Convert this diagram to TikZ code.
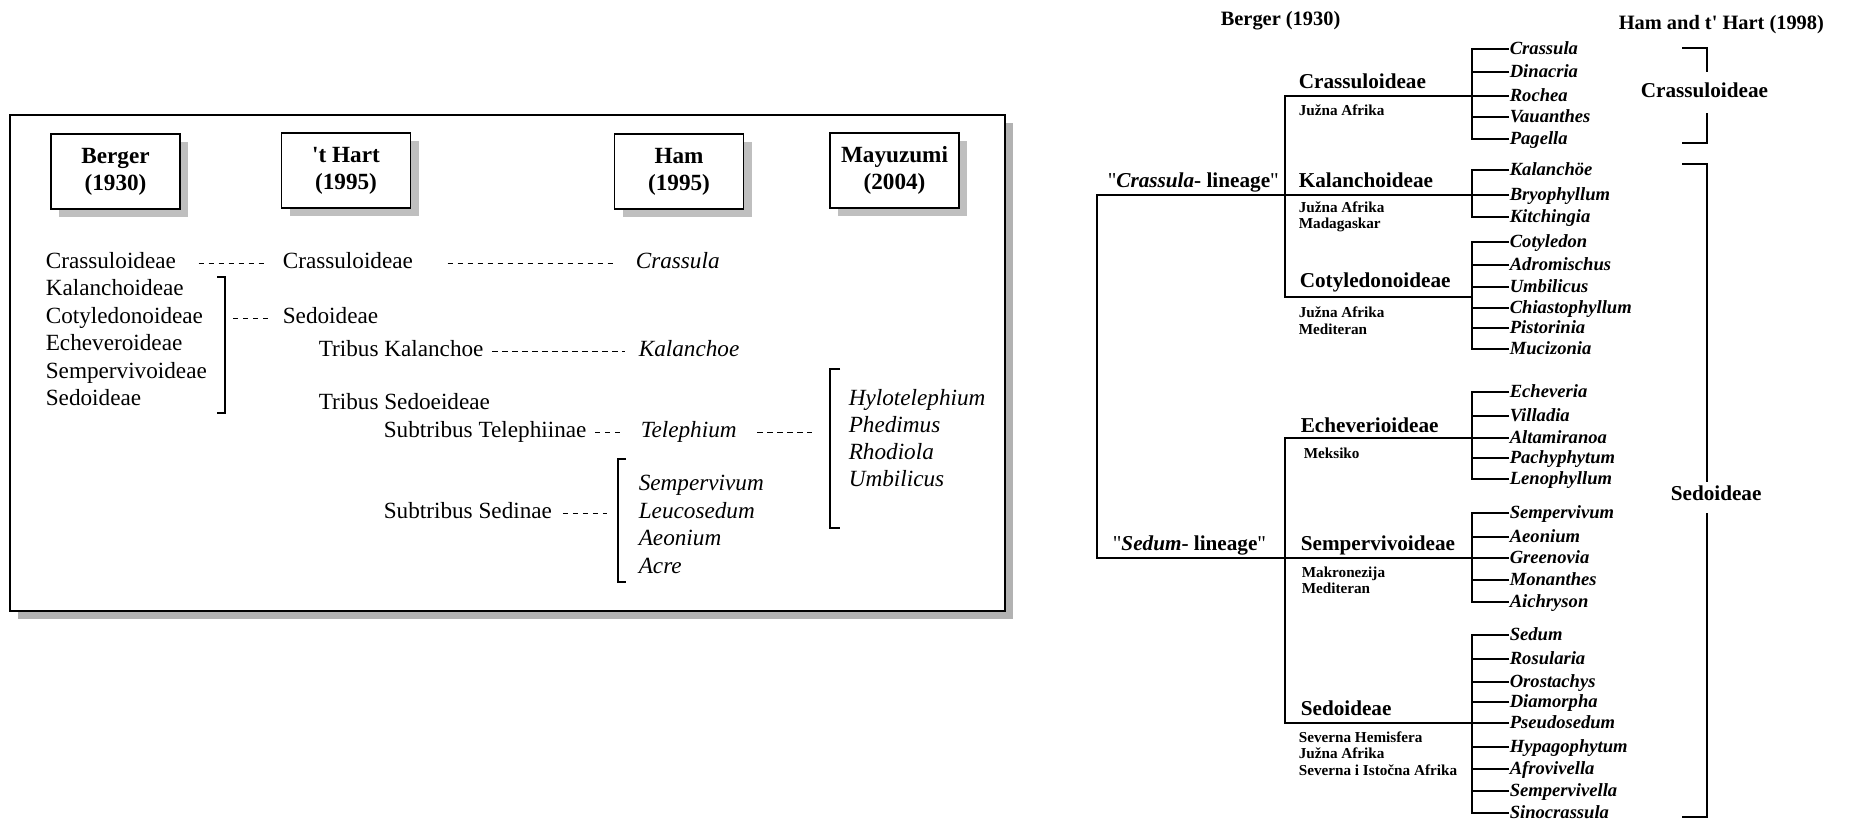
\documentclass[tikz,border=0pt]{standalone}
\usepackage{fontspec}
\setmainfont{Liberation Serif}[Ligatures=TeXOff]
\usetikzlibrary{shadows}

\begin{document}
\begin{tikzpicture}[x=0.5pt, y=-0.5pt, line width=0.8pt,
  main/.style = {inner sep=0pt, anchor=base west, text height=4.5pt, text depth=0pt, font=\fontsize{11.6}{13.9}\selectfont},
  ital/.style = {main, font=\fontsize{11.6}{13.9}\selectfont\itshape},
  head/.style = {draw, fill=white, minimum width=64.5pt, minimum height=37.5pt, align=center, inner sep=0pt, font=\fontsize{11.6}{13.5}\selectfont\bfseries, drop shadow={shadow xshift=4pt, shadow yshift=-4pt, fill=black!25, opacity=1}},
  fam/.style = {inner sep=0pt, anchor=base west, font=\fontsize{10.6}{12}\selectfont\bfseries},
  reg/.style = {inner sep=0pt, anchor=base west, font=\fontsize{7.6}{9}\selectfont\bfseries},
  gen/.style = {inner sep=0pt, anchor=west, text height=5.5pt, text depth=0pt, font=\fontsize{9.3}{11}\selectfont\bfseries\itshape},
  link/.style = {line width=0.5pt, dash pattern=on 2.6pt off 2.4pt},
  brk/.style = {line width=0.8pt}]
  \useasboundingbox (0,0) rectangle (1854,820);
  \draw[line width=1pt, fill=white, drop shadow={shadow xshift=4pt, shadow yshift=-4pt, fill=black!30, opacity=1}] (10,115) rectangle (1005,611);
  \node[head] (1) at (115.5,171.5) {Berger\\(1930)};
  \node[head] (2) at (346,170.5) {'t Hart\\(1995)};
  \node[head] (3) at (679,171.5) {Ham\\(1995)};
  \node[head] (4) at (894.5,170.5) {Mayuzumi\\(2004)};
  \node[main] (5) at (45,268) {Crassuloideae};
  \node[main] (6) at (45,295) {Kalanchoideae};
  \node[main] (7) at (45,323) {Cotyledonoideae};
  \node[main] (8) at (45,350) {Echeveroideae};
  \node[main] (9) at (45,378) {Sempervivoideae};
  \node[main] (10) at (45,405) {Sedoideae};
  \node[main] (11) at (282,268) {Crassuloideae};
  \node[main] (12) at (282,323) {Sedoideae};
  \node[main] (13) at (318,356) {Tribus Kalanchoe};
  \node[main] (14) at (318,409) {Tribus Sedoeideae};
  \node[main] (15) at (383,437) {Subtribus Telephiinae};
  \node[main] (16) at (383,518) {Subtribus Sedinae};
  \node[ital] (17) at (635,268) {Crassula};
  \node[ital] (18) at (638,356) {Kalanchoe};
  \node[ital] (19) at (640,437) {Telephium};
  \node[ital] (20) at (638,490) {Sempervivum};
  \node[ital] (21) at (638,518) {Leucosedum};
  \node[ital] (22) at (638,545) {Aeonium};
  \node[ital] (23) at (638,573) {Acre};
  \node[ital] (24) at (848,405) {Hylotelephium};
  \node[ital] (25) at (848,432) {Phedimus};
  \node[ital] (26) at (848,459) {Rhodiola};
  \node[ital] (27) at (848,486) {Umbilicus};
  \draw[brk] (217,277) -- (225,277) -- (225,413) -- (217,413);
  \draw[brk] (626,459) -- (618,459) -- (618,582) -- (626,582);
  \draw[brk] (840,369) -- (830,369) -- (830,528) -- (840,528);
  \coordinate (a) at (225,318.5);
  \coordinate (b) at (618,513.5);
  \coordinate (c) at (830,432.5);
  \draw[link, shorten <=11pt, shorten >=8.5pt] (5) to (11);
  \draw[link, shorten <=17pt, shorten >=9pt] (11) to (17);
  \draw[link, shorten <=4pt, shorten >=6.5pt] (a) to (12);
  \draw[link, shorten <=4pt, shorten >=6.5pt] (13) to (18);
  \draw[link, shorten <=4pt, shorten >=7.5pt] (15) to (19);
  \draw[link, shorten <=10pt, shorten >=9pt] (19) to (c);
  \draw[link, shorten <=5pt, shorten >=5.5pt] (16) to (b);
  \node[fam, font=\fontsize{10.2}{12}\selectfont\bfseries] (40) at (1220,25) {Berger (1930)};
  \node[fam, font=\fontsize{10.2}{12}\selectfont\bfseries] (41) at (1618,29) {Ham and t' Hart (1998)};
  \node[fam] (42) at (1107,187) {\textmd{"}\textit{Crassula}- lineage\textmd{"}};
  \node[fam] (43) at (1112,550) {\textmd{"}\textit{Sedum}- lineage\textmd{"}};
  \node[fam] (44) at (1298,88) {Crassuloideae};
  \node[reg] (45) at (1298,115) {Južna Afrika};
  \node[fam] (46) at (1298,187) {Kalanchoideae};
  \node[reg] (47) at (1298,212) {Južna Afrika};
  \node[reg] (48) at (1298,228) {Madagaskar};
  \node[fam] (49) at (1299,287) {Cotyledonoideae};
  \node[reg] (50) at (1298,317) {Južna Afrika};
  \node[reg] (51) at (1298,334) {Mediteran};
  \node[fam] (52) at (1300,432) {Echeverioideae};
  \node[reg] (53) at (1303,458) {Meksiko};
  \node[fam] (54) at (1300,550) {Sempervivoideae};
  \node[reg] (55) at (1301,577) {Makronezija};
  \node[reg] (56) at (1301,593) {Mediteran};
  \node[fam] (57) at (1300,715) {Sedoideae};
  \node[reg] (58) at (1298,742) {Severna Hemisfera};
  \node[reg] (59) at (1298,758) {Južna Afrika};
  \node[reg] (60) at (1298,775) {Severna i Istočna Afrika};
  \node[gen] (61) at (1509,49) {Crassula};
  \node[gen] (62) at (1509,72) {Dinacria};
  \node[gen] (63) at (1509,96) {Rochea};
  \node[gen] (64) at (1509,117) {Vauanthes};
  \node[gen] (65) at (1509,139) {Pagella};
  \node[gen] (66) at (1509,170) {Kalanchöe};
  \node[gen] (67) at (1509,195) {Bryophyllum};
  \node[gen] (68) at (1509,217) {Kitchingia};
  \node[gen] (69) at (1509,242) {Cotyledon};
  \node[gen] (70) at (1509,265) {Adromischus};
  \node[gen] (71) at (1509,287) {Umbilicus};
  \node[gen] (72) at (1509,308) {Chiastophyllum};
  \node[gen] (73) at (1509,328) {Pistorinia};
  \node[gen] (74) at (1509,349) {Mucizonia};
  \node[gen] (75) at (1509,392) {Echeveria};
  \node[gen] (76) at (1509,416) {Villadia};
  \node[gen] (77) at (1509,438) {Altamiranoa};
  \node[gen] (78) at (1509,458) {Pachyphytum};
  \node[gen] (79) at (1509,479) {Lenophyllum};
  \node[gen] (80) at (1509,513) {Sempervivum};
  \node[gen] (81) at (1509,537) {Aeonium};
  \node[gen] (82) at (1509,558) {Greenovia};
  \node[gen] (83) at (1509,580) {Monanthes};
  \node[gen] (84) at (1509,602) {Aichryson};
  \node[gen] (85) at (1509,635) {Sedum};
  \node[gen] (86) at (1509,659) {Rosularia};
  \node[gen] (87) at (1509,682) {Orostachys};
  \node[gen] (88) at (1509,702) {Diamorpha};
  \node[gen] (89) at (1509,723) {Pseudosedum};
  \node[gen] (90) at (1509,747) {Hypagophytum};
  \node[gen] (91) at (1509,769) {Afrovivella};
  \node[gen] (92) at (1509,791) {Sempervivella};
  \node[gen] (93) at (1509,813) {Sinocrassula};
  \coordinate (v) at (1472,0);
  \coordinate (r1) at (1097,195);
  \coordinate (r2) at (1097,558);
  \coordinate (s1) at (1285,96);
  \coordinate (s2) at (1285,297);
  \coordinate (s3) at (1285,438);
  \coordinate (s4) at (1285,723);
  \draw (r1 -| v) to (r1) to (r2) to (r2 -| v);
  \draw (s1 -| v) to (s1) to (s2) to (s2 -| v);
  \draw (s3 -| v) to (s3) to (s4) to (s4 -| v);
  \draw (61.west) to (61.west -| v) to (65.west -| v) to (65.west) (62.west) to (62.west -| v) (63.west) to (63.west -| v) (64.west) to (64.west -| v);
  \draw (66.west) to (66.west -| v) to (68.west -| v) to (68.west) (67.west) to (67.west -| v);
  \draw (69.west) to (69.west -| v) to (74.west -| v) to (74.west) (70.west) to (70.west -| v) (71.west) to (71.west -| v) (72.west) to (72.west -| v) (73.west) to (73.west -| v);
  \draw (75.west) to (75.west -| v) to (79.west -| v) to (79.west) (76.west) to (76.west -| v) (77.west) to (77.west -| v) (78.west) to (78.west -| v);
  \draw (80.west) to (80.west -| v) to (84.west -| v) to (84.west) (81.west) to (81.west -| v) (82.west) to (82.west -| v) (83.west) to (83.west -| v);
  \draw (85.west) to (85.west -| v) to (93.west -| v) to (93.west) (86.west) to (86.west -| v) (87.west) to (87.west -| v) (88.west) to (88.west -| v) (89.west) to (89.west -| v) (90.west) to (90.west -| v) (91.west) to (91.west -| v) (92.west) to (92.west -| v);
  \node[fam] (94) at (1640,97) {Crassuloideae};
  \node[fam] (95) at (1670,500) {Sedoideae};
  \draw[brk] (1682,48) -- (1707,48) -- (1707,72);
  \draw[brk] (1707,113) -- (1707,143) -- (1682,143);
  \draw[brk] (1682,164) -- (1707,164) -- (1707,482);
  \draw[brk] (1707,513) -- (1707,817) -- (1682,817);
\end{tikzpicture}
\end{document}
